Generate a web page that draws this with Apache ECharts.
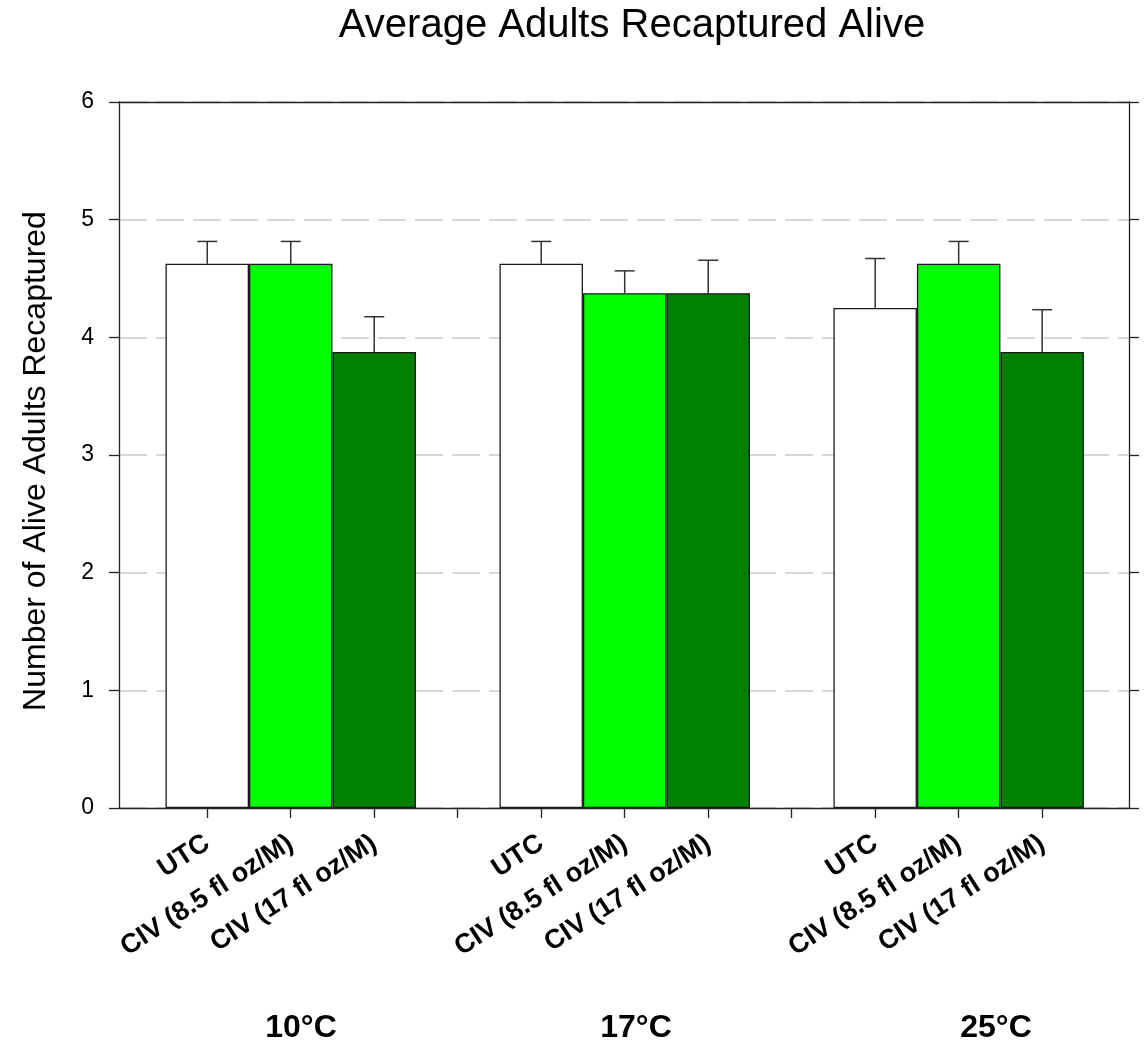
<!DOCTYPE html>
<html>
<head>
<meta charset="utf-8">
<script src="https://cdn.jsdelivr.net/npm/echarts@6/dist/echarts.min.js"></script>
<style>
html,body{margin:0;padding:0;background:#fff;}
#chart{width:1146px;height:1043px;}
</style>
</head>
<body>
<div id="chart"></div>
<script>
// ---- data ----
const groups = ['10°C', '17°C', '25°C'];
const treatments = ['UTC', 'CIV (8.5 fl oz/M)', 'CIV (17 fl oz/M)'];
const utcMean   = [4.625, 4.625, 4.25];
const civ85Mean = [4.625, 4.375, 4.625];
const civ17Mean = [3.875, 4.375, 3.875];
const utcErr    = [0.19, 0.19, 0.42];
const civ85Err  = [0.19, 0.19, 0.19];
const civ17Err  = [0.30, 0.28, 0.36];
const yTicks = [0, 1, 2, 3, 4, 5, 6];

// ---- layout helpers ----
const chartW = 1146, chartH = 1043;
const gridL = 119, gridR = 17, gridT = 102, gridB = 235;
const xMin = -1.057, xMax = 11.04;
const slotPx = (chartW - gridL - gridR) / (xMax - xMin);
const colors = ['#ffffff', '#00ff00', '#008000'];
const means = [utcMean, civ85Mean, civ17Mean];
const errs = [utcErr, civ85Err, civ17Err];
const FONT = '"Liberation Sans", Arial, sans-serif';

const pos = (g, t) => g * 4 + t;
const labelMap = {};
const labelPositions = [];
groups.forEach((g, gi) => treatments.forEach((t, ti) => {
  labelMap[pos(gi, ti)] = t;
  labelPositions.push(pos(gi, ti));
}));
const tickPositions = [];
for (let i = 0; i <= 10; i++) tickPositions.push(i);

const barSeries = treatments.map((t, ti) => ({
  name: t,
  type: 'bar',
  xAxisIndex: 0,
  yAxisIndex: 0,
  barWidth: slotPx,
  barGap: '-100%',
  data: groups.map((g, gi) => [pos(gi, ti), means[ti][gi]]),
  itemStyle: { color: colors[ti], borderColor: '#1a1a1a', borderWidth: 1.3 },
  z: 2
}));

const errData = [];
treatments.forEach((t, ti) => groups.forEach((g, gi) => {
  errData.push([pos(gi, ti), means[ti][gi], errs[ti][gi]]);
}));

const errSeries = {
  type: 'custom',
  xAxisIndex: 0,
  yAxisIndex: 0,
  z: 5,
  data: errData,
  encode: { x: 0, y: 1 },
  renderItem: function (params, api) {
    const x = api.value(0), m = api.value(1), e = api.value(2);
    const p0 = api.coord([x, m]);
    const p1 = api.coord([x, m + e]);
    const hw = 10;
    const st = { stroke: '#333', lineWidth: 1.5 };
    return {
      type: 'group',
      children: [
        { type: 'line', shape: { x1: p0[0], y1: p0[1], x2: p1[0], y2: p1[1] }, style: st },
        { type: 'line', shape: { x1: p1[0] - hw, y1: p1[1], x2: p1[0] + hw, y2: p1[1] }, style: st }
      ]
    };
  }
};

const groupLabelX = [301, 636, 996];
const graphics = groups.map((g, gi) => ({
  type: 'text',
  x: groupLabelX[gi],
  y: 1028,
  style: {
    text: g,
    font: 'bold 32px ' + FONT,
    fill: '#000',
    textAlign: 'center',
    textVerticalAlign: 'middle'
  }
}));

const axisLineStyle = { color: '#222', width: 1.3 };

const chart = echarts.init(document.getElementById('chart'), null, { renderer: 'canvas' });
chart.setOption({
  animation: false,
  backgroundColor: '#fff',
  title: {
    text: 'Average Adults Recaptured Alive',
    left: 627,
    top: 1,
    textAlign: 'center',
    textStyle: { fontFamily: FONT, fontSize: 40, fontWeight: 'normal', color: '#000' }
  },
  grid: {
    left: gridL, right: gridR, top: gridT, bottom: gridB,
    show: false
  },
  xAxis: [{
    type: 'value',
    min: xMin,
    max: xMax,
    position: 'bottom',
    axisLine: { show: true, onZero: false, lineStyle: axisLineStyle },
    axisTick: { show: true, length: 10, inside: false, customValues: tickPositions, lineStyle: axisLineStyle },
    splitLine: { show: false },
    axisLabel: {
      show: true,
      customValues: labelPositions,
      formatter: v => labelMap[v] || '',
      rotate: 33,
      margin: 33,
      fontFamily: FONT,
      fontWeight: 'bold',
      fontSize: 27,
      color: '#000'
    }
  }, {
    type: 'value',
    min: xMin,
    max: xMax,
    position: 'top',
    axisLine: { show: true, onZero: false, lineStyle: axisLineStyle },
    axisTick: { show: false },
    axisLabel: { show: false },
    splitLine: { show: false }
  }],
  yAxis: [{
    type: 'value',
    min: 0, max: 6, interval: 1,
    position: 'left',
    name: 'Number of Alive Adults Recaptured',
    nameLocation: 'middle',
    nameGap: 67,
    nameRotate: 90,
    nameTextStyle: { fontFamily: FONT, fontSize: 32, color: '#000', padding: [0, 12, 0, 0] },
    axisLine: { show: true, onZero: false, lineStyle: axisLineStyle },
    axisTick: { show: true, length: 10, inside: false, lineStyle: axisLineStyle },
    axisLabel: {
      margin: 25,
      formatter: v => (yTicks.indexOf(v) >= 0 ? String(v) : ''),
      fontFamily: FONT, fontSize: 23, color: '#000'
    },
    splitLine: { show: true, lineStyle: { color: '#cccccc', width: 1.5, type: [28, 9] } }
  }, {
    type: 'value',
    min: 0, max: 6, interval: 1,
    position: 'right',
    axisLine: { show: true, onZero: false, lineStyle: axisLineStyle },
    axisTick: { show: true, length: 10, inside: false, lineStyle: axisLineStyle },
    axisLabel: { show: false },
    splitLine: { show: false }
  }],
  series: barSeries.concat([errSeries]),
  graphic: graphics
});
</script>
</body>
</html>
